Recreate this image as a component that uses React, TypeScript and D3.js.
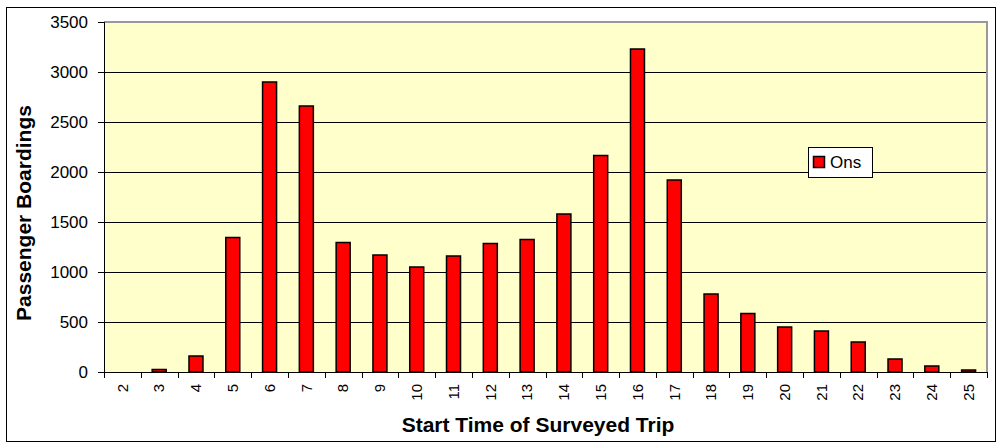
import React from 'react';
import * as d3 from 'd3';

const hours = ['2', '3', '4', '5', '6', '7', '8', '9', '10', '11', '12', '13', '14', '15', '16', '17', '18', '19', '20', '21', '22', '23', '24', '25'];
const ons = [0, 25, 160, 1345, 2900, 2660, 1295, 1170, 1050, 1160, 1285, 1325, 1580, 2165, 3230, 1920, 780, 585, 450, 410, 300, 130, 60, 20];
const yTicks = [0, 500, 1000, 1500, 2000, 2500, 3000, 3500];

const W = 996;
const H = 443;
const plot = { left: 104, top: 22, right: 987, bottom: 372 };

const App = () => {
    const x = d3.scaleBand().domain(hours).range([plot.left, plot.right]);
    const y = d3.scaleLinear().domain([0, 3500]).range([plot.bottom, plot.top]);
    const barW = 14;
    const font = 'Arial, "Liberation Sans", sans-serif';

    return (
        <svg width={W} height={H} style={{ position: 'absolute', left: 0, top: 0, fontFamily: font }}>
            <rect x={0} y={0} width={W} height={H} fill="#fff" />
            <rect x={6.5} y={7.5} width={989} height={434} fill="none" stroke="#000" strokeWidth={1} />
            {/* plot area */}
            <rect x={plot.left} y={plot.top} width={plot.right - plot.left} height={plot.bottom - plot.top} fill="#ffffcc" />
            <line x1={plot.left} x2={plot.right + 1} y1={plot.top} y2={plot.top} stroke="#999" strokeWidth={2} />
            <line x1={plot.right} x2={plot.right} y1={plot.top} y2={plot.bottom} stroke="#999" strokeWidth={2} />
            {yTicks.filter(t => t > 0 && t < 3500).map(t => (
                <line key={t} x1={plot.left} x2={plot.right - 1} y1={Math.round(y(t)) + 0.5} y2={Math.round(y(t)) + 0.5} stroke="#000" strokeWidth={1} />
            ))}
            {/* bars */}
            {hours.map((h, i) => (
                <rect key={h}
                    x={(x(h) as number) + x.bandwidth() / 2 - barW / 2}
                    y={y(ons[i])}
                    width={barW}
                    height={plot.bottom - y(ons[i])}
                    fill="#ff0000" stroke="#000" strokeWidth={1.5} />
            ))}
            {/* axes */}
            <line x1={plot.left + 0.5} x2={plot.left + 0.5} y1={plot.top} y2={plot.bottom} stroke="#000" />
            <line x1={plot.left} x2={plot.right + 1} y1={plot.bottom + 0.5} y2={plot.bottom + 0.5} stroke="#000" />
            {yTicks.map(t => (
                <g key={t}>
                    <line x1={plot.left - 6} x2={plot.left} y1={Math.round(y(t)) + 0.5} y2={Math.round(y(t)) + 0.5} stroke="#000" />
                    <text x={plot.left - 16} y={y(t)} dy="0.35em" textAnchor="end" fontSize={17}>{t}</text>
                </g>
            ))}
            {hours.map(h => (
                <line key={h} x1={Math.round(x(h) as number) + 0.5} x2={Math.round(x(h) as number) + 0.5}
                    y1={plot.bottom} y2={plot.bottom + 6} stroke="#000" />
            ))}
            <line x1={plot.right + 0.5} x2={plot.right + 0.5} y1={plot.bottom} y2={plot.bottom + 6} stroke="#000" />
            {hours.map(h => {
                const cx = (x(h) as number) + x.bandwidth() / 2;
                return (
                    <text key={h} transform={`translate(${cx},${plot.bottom + 12}) rotate(-90)`}
                        dy="0.35em" textAnchor="end" fontSize={15}>{h}</text>
                );
            })}
            {/* titles */}
            <text transform={`translate(31,213) rotate(-90)`} textAnchor="middle" fontSize={21} fontWeight="bold">Passenger Boardings</text>
            <text x={538} y={432} textAnchor="middle" fontSize={21} fontWeight="bold">Start Time of Surveyed Trip</text>
            {/* legend */}
            <rect x={808.5} y={147.5} width={64} height={30} fill="#fff" stroke="#000" />
            <rect x={813.5} y={156.5} width={11} height={11} fill="#ff0000" stroke="#000" strokeWidth={1.5} />
            <text x={830} y={162} dy="0.35em" fontSize={17}>Ons</text>
        </svg>
    );
};

export default App;
